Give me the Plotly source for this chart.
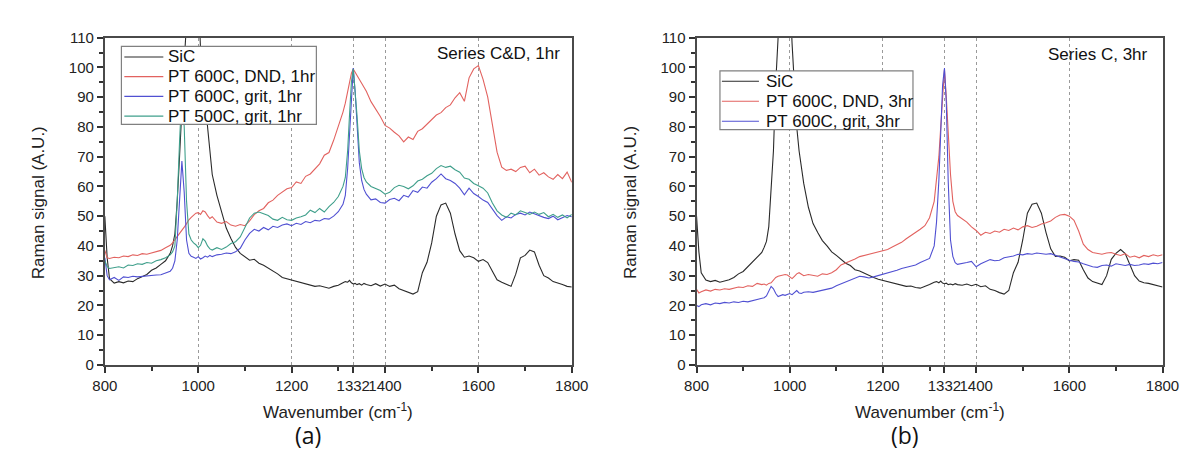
import plotly.graph_objects as go

# ---------------- data ----------------
wavenumber = [800, 805, 810, 820, 830, 840, 850, 860, 870, 880, 890, 900, 910, 920, 930, 940,
              945, 950, 955, 960, 965, 970, 975, 980, 985, 990, 995, 1000, 1005, 1010, 1015, 1020, 1025, 1030,
              1040, 1050, 1060, 1070, 1080, 1090, 1100, 1110, 1120, 1130, 1140, 1150, 1160, 1170, 1180, 1190,
              1200, 1210, 1220, 1230, 1240, 1250, 1260, 1270, 1280, 1290, 1300, 1310,
              1315, 1320, 1324, 1328, 1332, 1336, 1340, 1345, 1350, 1355, 1360,
              1370, 1380, 1390, 1400, 1410, 1420, 1430, 1440, 1450, 1460,
              1470, 1480, 1490, 1500, 1510, 1520, 1530, 1540, 1550, 1560,
              1570, 1580, 1590, 1600, 1610, 1620, 1630, 1640, 1650, 1660,
              1670, 1680, 1690, 1700, 1710, 1720, 1730, 1740, 1750, 1760,
              1770, 1780, 1790, 1800]

# panel (a): Series C&D, 1hr
sic_a = [50, 36, 29, 27.5, 28, 27.6, 28.2, 28, 29, 29.8, 30.4, 31.8, 32.6, 33.8, 35, 37.5,
         40, 44, 55, 70, 88, 102, 115, 135, 150, 155, 145, 122, 106, 96, 88, 80, 71, 64,
         57, 51, 46, 42.5, 39.5, 37.5, 36.4, 35.2, 35.5, 34.2, 33.5, 32.6, 31.5, 30.6, 29.4, 29,
         28.4, 28, 27.6, 27.3, 26.9, 26.4, 26.6, 26.1, 25.8, 26.4, 26.8, 27.6,
         28, 27.8, 28.4, 27.6, 27.2, 27.4, 27, 27.3, 26.8, 27.4, 27,
         26.6, 27.3, 26.5, 27.2, 26.4, 26.8, 25.6, 25, 24.2, 23.8,
         24.6, 31, 34.5, 41, 50, 53.8, 54.4, 51, 44, 38.4,
         36.2, 36.6, 36, 34.8, 35.4, 34.4, 31.5, 28.6, 27.8, 27.2,
         26.4, 30.5, 36, 36.8, 38.6, 38, 33.5, 30, 29.2, 28,
         27.6, 27, 26.4, 26.2]
dnd_600_1hr = [38.5, 36, 35.8, 36.2, 36, 36.6, 36.4, 37, 36.8, 37.4, 37.2, 37.6, 38, 38.5, 39.4, 40.2,
               41, 42, 43, 44.2, 45, 46.3, 47.5, 48.8, 49.6, 50.4, 51, 51.2, 50.6, 51.8, 51.4, 50.2, 49.2, 49.8,
               48, 47.6, 48.2, 47, 46.6, 47.2, 46.8, 48.4, 50.5, 51.8, 52.6, 54.5, 55.4, 57, 58, 59.2,
               59.6, 61.5, 61, 63.4, 64.2, 66, 67.6, 70.5, 71.4, 75.5, 80, 85,
               88, 92, 95.5, 98, 99.5, 98.4, 97.6, 96.2, 95, 93.4, 92,
               88.5, 86, 83.5, 80.5, 79.6, 78.2, 77, 75, 76.6, 75.8,
               78.5, 79.4, 81, 82.6, 84, 84.8, 86.5, 87.4, 89.8, 91.5,
               88.6, 96.5, 99.5, 100.6, 96, 90, 80.5, 71.5, 66.5, 65.4,
               65.8, 65, 66.4, 66.8, 64.6, 65.8, 63.8, 64.6, 63.2, 62.4,
               64, 62.6, 64.8, 61.4]
grit_600_1hr = [36, 30, 28.6, 29.4, 28.4, 29.6, 29.4, 29.8, 29.6, 29.8, 29.9, 30, 30.2, 30.3, 30.8, 31.5,
                32.5, 35, 42, 55, 68.5, 58, 42, 37.5, 36.5, 36.2, 35.8, 36.4, 35.6, 36, 36.6, 36.2, 36.8, 36.4,
                37, 37.2, 37.6, 37.4, 38, 39.2, 42, 44.2, 45.6, 45, 46.2, 45.4, 46.6, 46.2, 47, 47.4,
                46.8, 47.6, 47.2, 48.2, 47.8, 48.6, 48.4, 49.2, 49, 50, 51.5, 54,
                57, 66, 78, 92, 99.8, 92, 80, 68, 62, 59, 57.4,
                55.5, 55.8, 54.6, 54.4, 55.6, 56, 55.2, 57, 56.4, 58.6,
                58, 59.8, 59.4, 61.4, 62.6, 64.2, 62.6, 62, 61, 59.4,
                57.2, 59.4, 57.6, 56.6, 55.4, 54.6, 52.4, 50.2, 48.6, 49.8,
                49.4, 50.6, 51, 50.4, 51.4, 50.8, 50, 49.6, 49.2, 50,
                48.8, 49.6, 50.2, 49.8]
grit_500_1hr = [35, 33, 32.4, 32.8, 33, 32.6, 33.6, 33.4, 34, 33.8, 34.4, 34.2, 35, 35.4, 36, 37,
                38, 40, 55, 75, 92, 80, 55, 44, 42, 41, 40.4, 39.4, 40.2, 42.4, 41.6, 40, 39, 38.6,
                39.4, 38.8, 39.6, 40.8, 41.4, 43, 46, 49.4, 51, 51.4, 50.8, 50.2, 49, 48.6, 49.6, 48.8,
                48.6, 49.4, 49.8, 50.4, 52, 51.2, 52.6, 51.4, 53.2, 54.6, 56.6, 60,
                63, 72, 84, 95, 99.5, 93, 84, 72, 66, 63, 61.5,
                60, 59.4, 58.6, 57.4, 58, 59.6, 60.4, 60, 59.2, 60.2,
                61.8, 62.4, 63.6, 64.4, 66, 67, 66.4, 66.8, 65.6, 64.8,
                62.8, 62.4, 61, 60.2, 59.4, 57.8, 54.4, 51.8, 50.4, 49.6,
                51, 50.4, 51.8, 51.2, 50.6, 51.4, 50.6, 51.2, 49.8, 50.6,
                49.6, 50.4, 49.4, 50.6]

# panel (b): Series C, 3hr
sic_b = [50, 38, 31, 28.5, 28, 28.4, 27.8, 28.2, 28.6, 29.4, 30.6, 31.4, 33, 34.4, 36, 37.8,
         39.5, 41.5, 46.5, 58, 72, 95, 112, 135, 150, 155, 145, 125, 108, 94, 80, 72, 67, 61,
         53, 47.5, 44.5, 41.8, 40, 38, 36.8, 35.6, 34.2, 33.4, 32, 31.6, 30.8, 30.2, 29.4, 28.8,
         28.4, 27.8, 27.5, 27.2, 26.8, 26.4, 26.5, 26, 25.8, 26.3, 27, 27.8,
         28, 27.6, 28.2, 27.5, 27.3, 27.5, 27, 27.2, 26.9, 27.3, 27,
         26.8, 27.2, 26.6, 27.1, 26.3, 26.6, 25.4, 25, 24.3, 23.8,
         25, 31, 34.5, 42, 51, 54, 54.4, 51, 44.5, 39,
         36.5, 36.6, 36.2, 35, 35.4, 35.2, 32, 29.2, 28, 27.4,
         27, 30, 35.5, 37.5, 38.8, 37.4, 33.5, 30, 28.2, 27.6,
         27.4, 27, 26.6, 26.2]
dnd_600_3hr = [25.4, 24.2, 24.6, 25.2, 24.8, 25.4, 25.2, 25.6, 25.4, 25.9, 26.2, 26, 26.6, 26.4, 27.4, 27,
               27.2, 26.8, 27.4, 27.6, 28.4, 29.4, 29.8, 30, 30.2, 30.4, 30.2, 29.6, 29, 29.8, 30.6, 31, 30.4, 30,
               30.4, 30.2, 29.8, 30.6, 30.4, 31, 32, 33.6, 34.2, 35, 35.6, 36.4, 36.8, 37.2, 37.6, 38.2,
               38.4, 38.8, 39.6, 40.4, 41.2, 42.4, 43.4, 44.4, 45.6, 46.8, 49.5, 55,
               62, 70, 80, 90, 99.2, 90, 78, 64, 55, 51.5, 50.2,
               49, 48, 46.4, 45.2, 43.6, 44.6, 44.2, 45, 44.6, 45.6,
               45.2, 46, 45.4, 46.4, 46.8, 46.2, 46.6, 47.4, 47.8, 48.4,
               49.6, 50.4, 50.6, 50, 48.6, 45, 40.6, 38.8, 37.8, 37.4,
               37.2, 37.6, 37.8, 37.2, 36.8, 37.4, 36.2, 36.6, 36, 36.8,
               36.4, 37, 36.6, 37]
grit_600_3hr = [20, 19.6, 20.2, 20.6, 20.2, 20.8, 20.6, 21, 20.8, 21.2, 21, 21.4, 21.2, 21.6, 21.8, 22.2,
                22.6, 23.2, 25, 26.4, 25.6, 24, 23, 23.2, 23.6, 23.4, 23.8, 24, 23.6, 24.4, 25, 24.2, 24, 24.4,
                24.6, 24.4, 24.8, 25, 25.4, 25.8, 26.6, 27.2, 27.8, 28.4, 29, 29.8, 29.6, 29.2, 29.6, 30,
                30.4, 31, 31.2, 31.8, 32.4, 32.8, 33.2, 33.6, 34.4, 35, 35.8, 40,
                48, 62, 80, 94, 99.8, 88, 62, 42, 36.5, 34.4, 33.8,
                34, 34.4, 34.8, 33, 34, 34.6, 35.4, 35, 35.2, 36,
                36.2, 36.6, 37.2, 37, 37.4, 37.2, 37.6, 37.4, 37.2, 37.4,
                36.8, 36.4, 35.6, 35.2, 34.8, 34.6, 34, 33.4, 33, 32.8,
                33.4, 33.6, 33.2, 34, 33.6, 33.4, 33.8, 33.4, 33.6, 34,
                33.8, 34.2, 34, 34.4]

for s in [sic_a, dnd_600_1hr, grit_600_1hr, grit_500_1hr, sic_b, dnd_600_3hr, grit_600_3hr]:
    assert len(s) == len(wavenumber), len(s)

x_tickvals = [800, 1000, 1200, 1332, 1400, 1600, 1800]
x_minor_ticks = [900, 1100, 1300, 1500, 1700]

series_a = [("SiC", sic_a, "#2a2a2a"),
            ("PT 600C, DND, 1hr", dnd_600_1hr, "#e2625f"),
            ("PT 600C, grit, 1hr", grit_600_1hr, "#5050d2"),
            ("PT 500C, grit, 1hr", grit_500_1hr, "#3f9f8b")]
series_b = [("SiC", sic_b, "#2a2a2a"),
            ("PT 600C, DND, 3hr", dnd_600_3hr, "#e2625f"),
            ("PT 600C, grit, 3hr", grit_600_3hr, "#5050d2")]

FONT = "Liberation Sans, Arial, sans-serif"
W, H = 1192, 452


def px_x(p):
    return p / W


def px_y(p):
    return 1 - p / H


fig = go.Figure()
for name, ys, col in series_a:
    fig.add_trace(go.Scatter(x=wavenumber, y=ys, mode="lines", name=name, showlegend=False,
                             line=dict(color=col, width=1.1), xaxis="x", yaxis="y"))
for name, ys, col in series_b:
    fig.add_trace(go.Scatter(x=wavenumber, y=ys, mode="lines", name=name, showlegend=False,
                             line=dict(color=col, width=1.1), xaxis="x2", yaxis="y2"))

ydom = [px_y(361.5), px_y(21.5)]

xaxis_common = dict(range=[800, 1800], tickmode="array", tickvals=x_tickvals,
                    ticktext=[str(v) for v in x_tickvals], tickangle=0,
                    showgrid=True, gridcolor="#9a9a9a", griddash="dot", gridwidth=1,
                    showline=True, linecolor="#4a4a4a", linewidth=2, mirror=True,
                    ticks="outside", ticklen=6, tickwidth=1.5, tickcolor="#333",
                    minor=dict(tickmode="array", tickvals=x_minor_ticks, ticks="outside",
                               ticklen=4, tickwidth=1.5, tickcolor="#333", showgrid=False),
                    tickfont=dict(family=FONT, size=15, color="#222"),
                    zeroline=False)
yaxis_common = dict(range=[0, 110], tickmode="linear", tick0=0, dtick=10,
                    showgrid=False, zeroline=False,
                    showline=True, linecolor="#4a4a4a", linewidth=2, mirror=True,
                    ticks="outside", ticklen=6, tickwidth=1.5, tickcolor="#333",
                    minor=dict(dtick=5, ticks="outside", ticklen=4, tickwidth=1.5,
                               tickcolor="#333", showgrid=False),
                    tickfont=dict(family=FONT, size=15, color="#222"))

fig.update_layout(
    width=W, height=H, autosize=False,
    margin=dict(l=0, r=0, t=0, b=0),
    paper_bgcolor="white", plot_bgcolor="white",
    xaxis=dict(domain=[px_x(86), px_x(565)], anchor="y", **xaxis_common),
    yaxis=dict(domain=ydom, anchor="x", **yaxis_common),
    xaxis2=dict(domain=[px_x(693), px_x(1171)], anchor="y2", **xaxis_common),
    yaxis2=dict(domain=ydom, anchor="x2", **yaxis_common),
    showlegend=False,
)

# ---- legends (boxed, drawn above the curves) ----
shapes = []
annots = []


def add_legend(entries, box, line_x, text_x, row0, row_step):
    x0, y0, x1, y1 = box
    shapes.append(dict(type="rect", xref="paper", yref="paper", layer="above",
                       x0=px_x(x0), x1=px_x(x1), y0=px_y(y1), y1=px_y(y0),
                       fillcolor="white", line=dict(color="#808080", width=1.2)))
    for i, (name, _, col) in enumerate(entries):
        yc = row0 + i * row_step
        shapes.append(dict(type="line", xref="paper", yref="paper", layer="above",
                           x0=px_x(line_x[0]), x1=px_x(line_x[1]), y0=px_y(yc), y1=px_y(yc),
                           line=dict(color=col, width=1.1)))
        annots.append(dict(text=name, x=px_x(text_x), y=px_y(yc), xanchor="left",
                           yanchor="middle", font=dict(family=FONT, size=17, color="#111")))


add_legend(series_a, (103, 30.5, 303, 111.5), (106, 146), 149, 41.5, 20.5)
add_legend(series_b, (717, 56, 915, 117), (719, 757), 762, 66.7, 20.8)

annots += [
    dict(text="Series C&D, 1hr", x=px_x(555), y=px_y(38), xanchor="right", yanchor="middle",
         font=dict(family=FONT, size=17, color="#111")),
    dict(text="Series C, 3hr", x=px_x(1158), y=px_y(39), xanchor="right", yanchor="middle",
         font=dict(family=FONT, size=17, color="#111")),
    dict(text="Raman signal (A.U.)", x=px_x(18), y=px_y(193), textangle=-90,
         xanchor="center", yanchor="middle", font=dict(family=FONT, size=17, color="#222")),
    dict(text="Raman signal (A.U.)", x=px_x(625), y=px_y(193), textangle=-90,
         xanchor="center", yanchor="middle", font=dict(family=FONT, size=17, color="#222")),
    dict(text="Wavenumber (cm<sup>-1</sup>)", x=px_x(325.5), y=px_y(409),
         xanchor="center", yanchor="middle", font=dict(family=FONT, size=17, color="#222")),
    dict(text="Wavenumber (cm<sup>-1</sup>)", x=px_x(932), y=px_y(409),
         xanchor="center", yanchor="middle", font=dict(family=FONT, size=17, color="#222")),
    dict(text="(a)", x=px_x(294), y=px_y(434), xanchor="center", yanchor="middle",
         font=dict(family="Open Sans, sans-serif", size=23, color="#111")),
    dict(text="(b)", x=px_x(907), y=px_y(434), xanchor="center", yanchor="middle",
         font=dict(family="Open Sans, sans-serif", size=23, color="#111")),
]
for a in annots:
    a.update(xref="paper", yref="paper", showarrow=False)
fig.update_layout(annotations=annots, shapes=shapes)

fig.write_html("out.html")
